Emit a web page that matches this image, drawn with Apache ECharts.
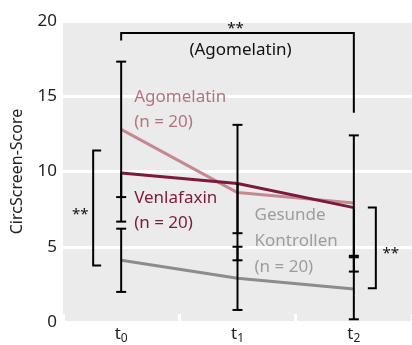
<!DOCTYPE html>
<html>
<head>
<meta charset="utf-8">
<script src="https://cdn.jsdelivr.net/npm/echarts@6/dist/echarts.min.js"></script>
<style>html,body{margin:0;padding:0;background:#fff}#c{width:412px;height:345px}</style>
</head>
<body>
<div id="c"></div>
<script>
// ---- data ----
const categories = ['t0', 't1', 't2'];
const subscripts = ['0', '1', '2'];
const yMin = 0, yMax = 20, yStep = 5;
const yAxisName = 'CircScreen-Score';

const agomelatin = [12.8, 8.6, 7.9];
const venlafaxin = [9.9, 9.2, 7.6];
const kontrollen = [4.1, 2.9, 2.2];

// visible whisker ends [low, high]; null = whisker not drawn
const agoErr = [[8.3, 17.3], [4.1, 13.1], [3.35, 12.4]];
const venErr = [[6.67, null], [5.9, null], [4.4, null]];
const konErr = [[2.0, 6.2], [0.8, 5.0], [0.18, 4.3]];

// significance brackets
const topBracket = [0, 2, 19.2, 18.7, 13.9];   // fromCat, toCat, yTop, leftEnd, rightEnd
const leftBracket = [0, 11.4, 3.75];            // cat, yHigh, yLow
const rightBracket = [2, 7.6, 2.25];            // cat, yHigh, yLow

const labelAgo = 'Agomelatin\n(n = 20)';
const labelVen = 'Venlafaxin\n(n = 20)';
const labelKon = 'Gesunde\nKontrollen\n(n = 20)';
const labelTop = '(Agomelatin)';
const sigMark = '**';

// ---- styles ----
const FONT = 'Noto Sans';
const cAgo = '#c48a90', cVen = '#7b1a3c', cKon = '#8c8c8c';
const tAgo = '#b5737b', tVen = '#7b1a3c', tKon = '#9d9d9d';

const chart = echarts.init(document.getElementById('c'), null, {renderer: 'canvas'});

function errSeries(errs, means) {
  return {
    type: 'custom', z: 10, silent: true,
    data: errs.map((e, i) => [i, e[0], e[1] == null ? means[i] : e[1]]),
    renderItem: function (params, api) {
      const i = params.dataIndex;
      const e = errs[i];
      const lo = api.coord([i, e[0]]);
      const hiVal = e[1] == null ? means[i] : e[1];
      const hi = api.coord([i, hiVal]);
      const st = {stroke: '#000', lineWidth: 2};
      const ch = [
        {type: 'line', shape: {x1: lo[0], y1: lo[1], x2: hi[0], y2: hi[1]}, style: st},
        {type: 'line', shape: {x1: lo[0] - 5, y1: lo[1], x2: lo[0] + 5, y2: lo[1]}, style: st}
      ];
      if (e[1] != null) ch.push({type: 'line', shape: {x1: hi[0] - 5, y1: hi[1], x2: hi[0] + 5, y2: hi[1]}, style: st});
      return {type: 'group', children: ch};
    }
  };
}

const annotations = [
  {cat: 0, val: 14.13, dx: 13, text: labelAgo, color: tAgo, align: 'left'},
  {cat: 0, val: 7.41, dx: 13, text: labelVen, color: tVen, align: 'left'},
  {cat: 1, val: 5.38, dx: 17, text: labelKon, color: tKon, align: 'left'},
  {cat: 1, val: 18.03, dx: 3, text: labelTop, color: '#111', align: 'center'},
  {cat: 1, val: 19.5, dx: -2, text: sigMark, color: '#111', align: 'center'},
  {cat: 0, val: 7.15, dx: -41, text: sigMark, color: '#111', align: 'center'},
  {cat: 2, val: 4.55, dx: 37, text: sigMark, color: '#111', align: 'center'}
];

const option = {
  animation: false,
  grid: {left: 63, right: -3, top: 21, bottom: 20, show: true, backgroundColor: '#ebebeb', borderWidth: 0, containLabel: false},
  xAxis: {
    type: 'category', data: categories, boundaryGap: true,
    axisLine: {show: false},
    axisTick: {show: true, inside: true, length: 8, lineStyle: {color: '#fff', width: 3}},
    axisLabel: {
      margin: 2,
      formatter: function (v, i) { return '{t|t}{s|' + subscripts[i] + '}'; },
      rich: {
        t: {fontFamily: FONT, fontSize: 17, color: '#222'},
        s: {fontFamily: FONT, fontSize: 12, color: '#222', padding: [9, 0, 0, 0]}
      }
    },
    splitLine: {show: false}
  },
  yAxis: {
    type: 'value', min: yMin, max: yMax, interval: yStep,
    name: yAxisName, nameLocation: 'middle', nameGap: 38,
    nameTextStyle: {fontFamily: FONT, fontSize: 16, color: '#222'},
    axisLine: {show: false}, axisTick: {show: false},
    axisLabel: {fontFamily: FONT, fontSize: 17, color: '#222', margin: 6},
    splitLine: {show: true, lineStyle: {color: '#fff', width: 3}}
  },
  series: [
    {name: 'Venlafaxin', type: 'line', data: venlafaxin, symbol: 'none', lineStyle: {color: cVen, width: 3}, z: 3},
    {name: 'Agomelatin', type: 'line', data: agomelatin, symbol: 'none', lineStyle: {color: cAgo, width: 3}, z: 2},
    {name: 'Kontrollen', type: 'line', data: kontrollen, symbol: 'none', lineStyle: {color: cKon, width: 3}, z: 2},
    errSeries(agoErr, agomelatin),
    errSeries(venErr, venlafaxin),
    errSeries(konErr, kontrollen),
    {
      type: 'custom', z: 10, silent: true,
      data: [topBracket],
      renderItem: function (params, api) {
        const a = api.coord([topBracket[0], topBracket[2]]);
        const b = api.coord([topBracket[1], topBracket[2]]);
        const l = api.coord([topBracket[0], topBracket[3]]);
        const r = api.coord([topBracket[1], topBracket[4]]);
        return {type: 'polyline', shape: {points: [[l[0], l[1]], [a[0], a[1]], [b[0], b[1]], [r[0], r[1]]]}, style: {stroke: '#000', lineWidth: 2, fill: null}};
      }
    },
    {
      type: 'custom', z: 10, silent: true,
      data: [leftBracket, rightBracket],
      renderItem: function (params, api) {
        const br = params.dataIndex === 0 ? leftBracket : rightBracket;
        const hi = api.coord([br[0], br[1]]);
        const lo = api.coord([br[0], br[2]]);
        const off = params.dataIndex === 0 ? -28 : 22;
        const dir = params.dataIndex === 0 ? 8 : -8;
        const x = hi[0] + off;
        return {type: 'polyline', shape: {points: [[x + dir, hi[1]], [x, hi[1]], [x, lo[1]], [x + dir, lo[1]]]}, style: {stroke: '#000', lineWidth: 2, fill: null}};
      }
    },
    {
      type: 'custom', z: 11, silent: true,
      data: annotations.map(a => [a.cat, a.val]),
      renderItem: function (params, api) {
        const a = annotations[params.dataIndex];
        const p = api.coord([a.cat, a.val]);
        return {type: 'text', x: p[0] + a.dx, y: p[1], style: {text: a.text, fill: a.color, fontFamily: FONT, fontSize: a.text === sigMark ? 15 : 17, lineHeight: a.text === labelKon ? 26 : 25, align: a.align, verticalAlign: 'middle'}};
      }
    }
  ]
};
chart.setOption(option);
</script>
</body>
</html>
